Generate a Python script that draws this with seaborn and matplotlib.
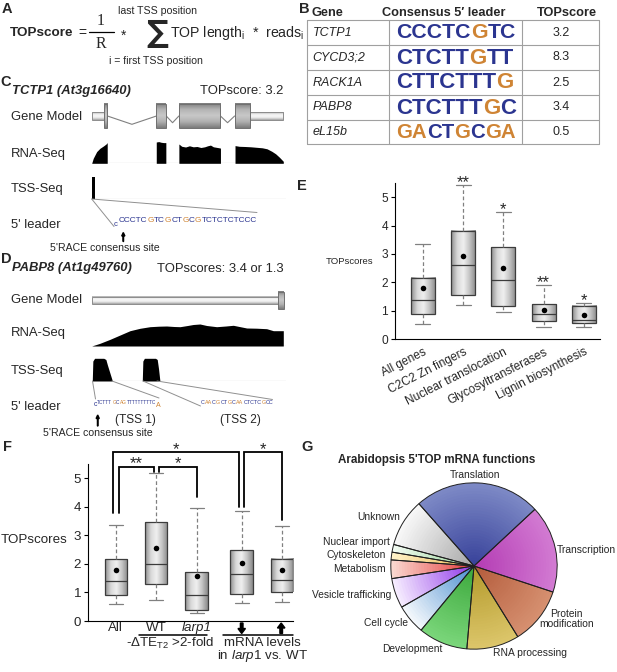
import itertools
import numpy as np
import matplotlib
matplotlib.use('Agg')
import matplotlib.pyplot as plt
import seaborn as sns
from matplotlib import font_manager
from matplotlib.colors import LinearSegmentedColormap, to_rgb
from matplotlib.patches import Rectangle

# ---------------- data ----------------
# B: consensus 5' leaders
genes_b = ['TCTP1', 'CYCD3;2', 'RACK1A', 'PABP8', 'eL15b']
leaders_b = ['CCCTCGTC', 'CTCTTGTT', 'CTTCTTTG', 'CTCTTTGC', 'GACTGCGA']
topscores_b = ['3.2', '8.3', '2.5', '3.4', '0.5']

# C: TCTP1 tracks (x in % of locus)
tctp1_utr = [(0, 6.6), (82.5, 100)]
tctp1_exons = [(6.6, 8.2), (33.8, 38.9), (45.5, 67.2), (74.6, 82.5)]
tctp1_dips = [8.3, 6.7, 6.7]
tctp1_rna_x = [[0, 0.8, 2.6, 4.3, 6.1, 7.5, 8.1],
               [33.7, 35, 36.3, 37.5, 38.7],
               [45.5, 47, 49, 51, 53, 55, 57, 59, 60.5, 62, 63.5, 65, 66.5, 67.2],
               [74.8, 77, 80, 83, 86, 89, 91.5, 94, 96, 98, 100]]
tctp1_rna_y = [[0, 5, 11.7, 15, 17.3, 19.3, 20.7],
               [21.3, 21.7, 21, 20.7, 20.7],
               [19.3, 17, 16.3, 17.5, 16.5, 16.8, 15.8, 16.5, 17.5, 18.2, 16.5, 16, 15.5, 15.2],
               [17.7, 17, 16.8, 16.5, 16, 15.5, 14.5, 12, 9.5, 6, 2]]
tctp1_tss_x = [1.0]
tctp1_tss_y = [22.5]
tctp1_leader = 'CCCTCGTCGCTGCGTCTCTCTCCC'

# D: PABP8 tracks
pabp8_utr = [(0, 97.4)]
pabp8_exons = [(97.4, 100.3)]
pabp8_rna_x = [0, 4.3, 9.6, 14.8, 20, 25.2, 30.4, 35, 39.1, 43, 46.1, 50, 53, 56.5,
               60, 65.2, 70, 73.9, 77, 80.9, 86, 91.3, 94.8, 100]
pabp8_rna_y = [0, 2.7, 6.7, 11, 15.3, 17.7, 19.3, 19.8, 20, 19.5, 19.3, 20.5, 21.5, 22,
               20.5, 19.3, 20, 20.7, 19.5, 18, 17.8, 17.3, 15.3, 15.3]
pabp8_tss_x = [[0.3, 0.6, 1.5, 6.3, 7.4, 8.2, 10.8],
               [26.4, 26.7, 27.5, 33.3, 34.2, 34.9, 35.6]]
pabp8_tss_y = [[0, 20, 22.7, 22.7, 21.5, 16, 0],
               [0, 20, 22.7, 22.7, 21.5, 12, 0]]
pabp8_tss1 = 'TCTTTGCAGTTTTTTTTTC'
pabp8_tss2 = 'CAACGCTGCAACTCTCGCC'

# E: TOPscores by gene category
E_cats = ['All genes', 'C2C2 Zn fingers', 'Nuclear translocation',
          'Glycosyltransferases', 'Lignin biosynthesis']
E_lo = [0.53, 1.21, 0.95, 0.44, 0.41]
E_q1 = [0.87, 1.55, 1.18, 0.65, 0.55]
E_med = [1.36, 2.60, 2.07, 0.87, 0.67]
E_q3 = [2.14, 3.81, 3.24, 1.22, 1.18]
E_hi = [3.35, 5.44, 4.46, 1.89, 1.28]
E_mean = [1.80, 2.94, 2.49, 1.04, 0.84]
E_sig = ['', '**', '*', '**', '*']

# F: TOPscores by larp1 response
F_cats = ['All', 'WT', 'larp1', '', '']
F_lo = [0.58, 0.72, 0.27, 0.62, 0.67]
F_q1 = [0.91, 1.29, 0.40, 0.95, 1.00]
F_med = [1.40, 2.00, 0.91, 1.65, 1.44]
F_q3 = [2.17, 3.46, 1.73, 2.49, 2.17]
F_hi = [3.38, 5.18, 3.95, 3.84, 3.34]
F_mean = [1.80, 2.56, 1.59, 2.03, 1.80]

# G: 5'TOP mRNA functions (% of genes)
G_labels = ['Translation', 'Transcription', 'Protein modification', 'RNA processing',
            'Development', 'Cell cycle', 'Vesicle trafficking', 'Metabolism',
            'Cytoskeleton', 'Nuclear import', 'Unknown']
G_share = [24.6, 17.0, 11.1, 10.2, 9.6, 5.8, 5.8, 3.6, 1.5, 1.5, 9.3]
G_outer = ['#7d89c6', '#d27ad2', '#d69070', '#dcc66a', '#7ad67a', '#f4f8fc',
           '#f6ecff', '#fbd8d0', '#fff2c8', '#f2fbf2', '#f8f8f8']
G_inner = ['#38429a', '#b43cb4', '#b45c3c', '#b49a2c', '#3ca83c', '#4a8ed0',
           '#9038e8', '#e23c3c', '#e8b850', '#98d498', '#a8a8a8']

# ---------------- style ----------------
sns.set_theme(style='ticks')
plt.rcParams['font.family'] = ['Liberation Sans', 'DejaVu Sans']
plt.rcParams['mathtext.fontset'] = 'custom'
plt.rcParams['mathtext.rm'] = 'Liberation Sans'
plt.rcParams['mathtext.it'] = 'Liberation Sans:italic'
plt.rcParams['mathtext.bf'] = 'Liberation Sans:bold'
plt.rcParams['axes.edgecolor'] = 'black'
plt.rcParams['axes.linewidth'] = 0.8

try:
    font_manager.findfont('Liberation Sans Narrow', fallback_to_default=False)
    NARROW = ['Liberation Sans Narrow', 'Liberation Sans']
except ValueError:
    NARROW = ['Liberation Sans', 'DejaVu Sans']

BLUE = '#2b3590'
ORANGE = '#cf8434'

W, H = 617, 672
fig = plt.figure(figsize=(W / 100, H / 100), dpi=100)
renderer = fig.canvas.get_renderer()


def px_axes(x0, y0, x1, y1):
    return fig.add_axes([x0 / W, 1 - y1 / H, (x1 - x0) / W, (y1 - y0) / H])


def base_color(ch):
    return ORANGE if ch in 'AG' else BLUE


cyl_box = LinearSegmentedColormap.from_list('cylb', ['#8e8e8e', '#d8d8d8', '#f0f0f0', '#c4c4c4', '#8a8a8a'])
cyl_exon = LinearSegmentedColormap.from_list('cyle', ['#7c7c7c', '#b4b4b4', '#c8c8c8', '#b0b0b0', '#7c7c7c'])
cyl_utr = LinearSegmentedColormap.from_list('cylu', ['#a8a8a8', '#ececec', '#f8f8f8', '#e4e4e4', '#a0a0a0'])
GRAD = np.linspace(0, 1, 64)


def shade(ax, x0, x1, y0, y1, cmap, vertical, z):
    img = GRAD.reshape(-1, 1) if vertical else GRAD.reshape(1, -1)
    ax.imshow(img, extent=[x0, x1, y0, y1], cmap=cmap, aspect='auto', zorder=z,
              interpolation='bilinear', clip_on=False)


def ax_h(ax):
    return ax.get_position().height * H


def draw_gene(ax, utrs, exons, utr_h, exon_h, dips):
    for a, b in utrs:
        shade(ax, a, b, -utr_h, utr_h, cyl_utr, True, 1)
        ax.add_patch(Rectangle((a, -utr_h), b - a, 2 * utr_h, fill=False, ec='#8c8c8c', lw=0.7, zorder=2, clip_on=False))
    for a, b in exons:
        shade(ax, a, b, -exon_h, exon_h, cyl_exon, True, 3)
        ax.add_patch(Rectangle((a, -exon_h), b - a, 2 * exon_h, fill=False, ec='#707070', lw=0.7, zorder=4, clip_on=False))
    for (a0, b0), (a1, b1), d in zip(exons[:-1], exons[1:], dips):
        ax.plot([b0, (b0 + a1) / 2, a1], [0, -d, 0], color='#808080', lw=0.8, zorder=0.5)
    ax.set_xlim(0, 101.2)
    ax.set_ylim(-ax_h(ax) / 2, ax_h(ax) / 2)
    ax.axis('off')


def track(ax):
    ax.axhline(0, color='#9a9a9a', lw=0.8, zorder=0)
    ax.set_xlim(0, 101.2)
    ax.set_ylim(0, 24)
    ax.axis('off')


def draw_boxes(ax, pos, lo, q1, med, q3, hi, mean, width):
    stats = [dict(whislo=a, q1=b, med=c, q3=d, whishi=e, mean=f)
             for a, b, c, d, e, f in zip(lo, q1, med, q3, hi, mean)]
    ax.bxp(stats, positions=pos, widths=width, patch_artist=True, showfliers=False,
           manage_ticks=False, capwidths=width * 0.62,
           boxprops=dict(facecolor='none', edgecolor='#3c3c3c', lw=0.9),
           medianprops=dict(color='#3c3c3c', lw=0.9),
           whiskerprops=dict(color='#808080', lw=0.9, ls=(0, (3, 2))),
           capprops=dict(color='#808080', lw=0.9))
    for p, a, b in zip(pos, q1, q3):
        shade(ax, p - width / 2, p + width / 2, a, b, cyl_box, False, 1.5)
    sns.scatterplot(x=pos, y=mean, color='black', s=16, linewidth=0, ax=ax, zorder=6, legend=False)


# ---------------- panel E ----------------
E_pos = list(range(len(E_cats)))
axE = px_axes(395, 183, 600, 339)
draw_boxes(axE, E_pos, E_lo, E_q1, E_med, E_q3, E_hi, E_mean, 0.6)
for p, h, s in zip(E_pos, E_hi, E_sig):
    axE.annotate(s, (p, h), xytext=(0, -1.5), textcoords='offset points', ha='center',
                 va='baseline', fontsize=12)
axE.set_xlim(-0.69, 4.4)
axE.set_ylim(0, 5.5)
axE.set_yticks(range(6))
axE.set_xticks(E_pos)
axE.set_xticklabels(E_cats, rotation=27, ha='right', va='top', rotation_mode='anchor', fontsize=8.6)
axE.tick_params(axis='x', length=0, pad=5)
axE.tick_params(axis='y', length=3, width=0.8, labelsize=8.6, pad=2, color='black')
axE.set_ylabel('TOPscores', rotation=0, ha='right', va='center', fontsize=6.8)
axE.yaxis.set_label_coords(-0.107, 0.50)
sns.despine(ax=axE)

# ---------------- panel F ----------------
F_pos = [0, 1, 2, 3.12, 4.12]
axF = px_axes(88, 464, 293, 621)
draw_boxes(axF, F_pos, F_lo, F_q1, F_med, F_q3, F_hi, F_mean, 0.56)
axF.set_xlim(-0.69, 4.39)
axF.set_ylim(0, 5.5)
axF.set_yticks(range(6))
axF.set_xticks(F_pos)
axF.set_xticklabels(F_cats, fontsize=9.6)
axF.get_xticklabels()[2].set_style('italic')
axF.tick_params(axis='x', length=0, pad=1)
axF.tick_params(axis='y', length=3, width=0.8, labelsize=9.6, pad=2, color='black')
axF.set_ylabel('TOPscores', rotation=0, ha='right', va='center', fontsize=9.6)
axF.yaxis.set_label_coords(-0.102, 0.516)
sns.despine(ax=axF)
# significance brackets (x, y in data units)
brackets = [([-0.07, -0.07, 3.06, 3.06], [3.77, 5.91, 5.91, 4.00]),
            ([0.074, 0.074, 0.95, 0.95], [3.77, 5.41, 5.41, 5.22]),
            ([1.07, 1.07, 2.0, 2.0], [5.22, 5.41, 5.41, 4.36]),
            ([3.18, 3.18, 4.12, 4.12], [4.00, 5.91, 5.91, 3.54])]
for bx, by in brackets:
    axF.plot(bx, by, color='black', lw=1.3, clip_on=False, solid_joinstyle='miter')
for sx, sy, s in [(1.5, 5.91, '*'), (0.51, 5.41, '**'), (1.53, 5.41, '*'), (3.65, 5.91, '*')]:
    axF.annotate(s, (sx, sy), xytext=(0, -1.0), textcoords='offset points', ha='center',
                 va='baseline', fontsize=12, annotation_clip=False)

# ---------------- panel G ----------------
axG = px_axes(390, 482, 558, 650)
n_layers = 30
for k in range(n_layers):
    t = k / (n_layers - 1)
    cols = [tuple((1 - t) * np.array(to_rgb(o)) + t * np.array(to_rgb(i))) for o, i in zip(G_outer, G_inner)]
    axG.pie(G_share, radius=1 - k / n_layers, colors=cols, startangle=131.5, counterclock=False,
            wedgeprops=dict(linewidth=0))
axG.pie(G_share, radius=1, colors=['none'] * len(G_share), startangle=131.5, counterclock=False,
        wedgeprops=dict(linewidth=0.7, edgecolor='#202020'))
axG.set_xlim(-1.01, 1.01)
axG.set_ylim(-1.01, 1.01)
axG.set_aspect('equal')

# ---------------- panels C and D tracks ----------------
axCg = px_axes(91.7, 101, 285.6, 131)
draw_gene(axCg, tctp1_utr, tctp1_exons, 3.8, 12.1, tctp1_dips)
axCr = px_axes(91.7, 139.3, 285.6, 163.3)
for xs, ys in zip(tctp1_rna_x, tctp1_rna_y):
    axCr.fill_between(xs, 0, ys, color='black', lw=0)
track(axCr)
axCt = px_axes(91.7, 175, 285.6, 199)
axCt.bar(tctp1_tss_x, tctp1_tss_y, width=1.2, color='black', lw=0)
track(axCt)

axDg = px_axes(91.7, 290, 285.6, 311)
draw_gene(axDg, pabp8_utr, pabp8_exons, 3.7, 8.8, [])
axDr = px_axes(91.7, 322, 285.6, 346)
axDr.fill_between(pabp8_rna_x, 0, pabp8_rna_y, color='black', lw=0)
track(axDr)
axDt = px_axes(91.7, 357, 285.6, 381)
for xs, ys in zip(pabp8_tss_x, pabp8_tss_y):
    axDt.fill_between(xs, 0, ys, color='black', lw=0)
track(axDt)

# ---------------- overlay for text and annotations ----------------
ov = px_axes(0, 0, W, H)
ov.set_xlim(0, W)
ov.set_ylim(H, 0)
ov.axis('off')


def fit_size(seq, target, family, weight):
    t = ov.text(0, 0, seq, fontsize=10, family=family, fontweight=weight)
    w = t.get_window_extent(renderer).width
    t.remove()
    return 10 * target / w


def write_seq(x, y, seq, target, family=NARROW, weight='normal', max_fs=None):
    # sequence written as colour runs, fitted to the span of the reference
    fs = fit_size(seq, target, family, weight)
    if max_fs:
        fs = min(fs, max_fs)
    for col, grp in itertools.groupby(seq, key=base_color):
        t = ov.text(x, y, ''.join(grp), family=family, fontweight=weight, fontsize=fs,
                    color=col, ha='left', va='center')
        x += t.get_window_extent(renderer).width + 0.15
    return x


PL = dict(fontsize=10.5, fontweight='bold', va='center', ha='left')
for lab, x, y in [('A', 2, 9), ('B', 299, 9), ('C', 0.5, 82), ('D', 1, 259), ('E', 297, 186),
                  ('F', 3, 447), ('G', 301, 447)]:
    ov.text(x, y, lab, **PL)

# A: equation
ov.text(10, 33, 'TOPscore', fontsize=9.7, fontweight='bold', va='center')
ov.text(82, 33, '=', fontsize=10, va='center', ha='center')
ov.text(101, 21, '1', family=['Liberation Serif', 'DejaVu Serif'], fontsize=11.5, ha='center', va='center')
ov.plot([89, 114], [32, 32], color='black', lw=0.9)
ov.text(101, 44, 'R', family=['Liberation Serif', 'DejaVu Serif'], fontsize=11.5, ha='center', va='center')
ov.text(124, 36, '*', fontsize=10, ha='center', va='center')
ov.text(157.5, 34, '∑', family=['DejaVu Sans'], fontsize=22, fontweight='bold', ha='center', va='center')
ov.text(157.5, 11.5, 'last TSS position', fontsize=7.6, ha='center', va='center')
ov.text(156, 61, 'i = first TSS position', fontsize=7.6, ha='center', va='center')
ov.text(169.5, 32.5, r'TOP length$_{\mathregular{i}}$  *  reads$_{\mathregular{i}}$', fontsize=10.2, va='center')

# B: table
tb_x0, tb_x1 = 307.3, 599.3
row_edges = [20, 45, 70, 95, 120, 144]
for y in row_edges:
    ov.plot([tb_x0, tb_x1], [y, y], color='#a0a0a0', lw=0.8)
for x in [tb_x0, 389.3, 522.3, tb_x1]:
    ov.plot([x, x], [row_edges[0], row_edges[-1]], color='#a0a0a0', lw=0.8)
ov.text(311.5, 12.5, 'Gene', fontsize=9.2, fontweight='bold', va='center')
ov.text(443.5, 12.5, 'Consensus 5′ leader', fontsize=9.2, fontweight='bold', va='center', ha='center')
ov.text(566.5, 12.5, 'TOPscore', fontsize=9.2, fontweight='bold', va='center', ha='center')
for r, (g, seq, sc) in enumerate(zip(genes_b, leaders_b, topscores_b)):
    yc = (row_edges[r] + row_edges[r + 1]) / 2
    ov.text(312.5, yc, g, fontsize=9, style='italic', va='center')
    ov.text(560.8, yc, sc, fontsize=9, va='center', ha='center')
    write_seq(396, yc + 0.5, seq, 119, family=['Liberation Sans', 'DejaVu Sans'], weight='bold', max_fs=16)

# C: labels
for txt, y in [('Gene Model', 117), ('RNA-Seq', 154), ('TSS-Seq', 189), ("5' leader", 225)]:
    ov.text(11, y, txt, fontsize=9.4, va='center')
ov.text(12.5, 91, 'TCTP1 (At3g16640)', fontsize=9.4, fontweight='bold', style='italic', va='center')
ov.text(283.5, 91, 'TOPscore: 3.2', fontsize=9.4, va='center', ha='right')
ov.plot([91.7, 114], [199, 226.5], color='#909090', lw=0.7)
ov.plot([91.7, 257], [199, 212.5], color='#909090', lw=0.7)
ov.text(113.3, 224, 'c', family=NARROW, fontsize=5.5, color=BLUE, ha='left', va='center')
write_seq(118.6, 220.5, tctp1_leader, 138)
ov.arrow(123.3, 241.5, 0, -9, width=0.5, head_width=3.2, head_length=3.5, length_includes_head=True, color='black')
ov.text(104.5, 248, "5'RACE consensus site", fontsize=7.6, ha='center', va='center')

# D: labels
for txt, y in [('Gene Model', 300), ('RNA-Seq', 333), ('TSS-Seq', 371), ("5' leader", 407)]:
    ov.text(11, y, txt, fontsize=9.4, va='center')
ov.text(12.5, 268.5, 'PABP8 (At1g49760)', fontsize=9.4, fontweight='bold', style='italic', va='center')
ov.text(283.5, 268.5, 'TOPscores: 3.4 or 1.3', fontsize=9.4, va='center', ha='right')
ov.plot([92.5, 95.5], [381, 399], color='#909090', lw=0.7)
ov.plot([112, 159], [381, 398], color='#909090', lw=0.7)
ov.plot([143, 200.5], [381, 406], color='#909090', lw=0.7)
ov.plot([157, 272.5], [381, 399.5], color='#909090', lw=0.7)
ov.text(94, 405, 'c', family=NARROW, fontsize=5, color=BLUE, ha='left', va='center')
x_end = write_seq(97.3, 402.8, pabp8_tss1, 59)
ov.text(x_end + 0.3, 405.5, 'A', family=NARROW, fontsize=5, color=ORANGE, ha='left', va='center')
write_seq(200.7, 402.8, pabp8_tss2, 72)
ov.text(135.8, 419.5, '(TSS 1)', fontsize=8.6, ha='center', va='center')
ov.text(240, 419.5, '(TSS 2)', fontsize=8.6, ha='center', va='center')
ov.arrow(97.7, 426, 0, -11, width=0.5, head_width=3.2, head_length=3.5, length_includes_head=True, color='black')
ov.text(98, 433.5, "5'RACE consensus site", fontsize=7.6, ha='center', va='center')

# F: group annotations
ov.arrow(241.7, 623, 0, 10.5, width=2.6, head_width=7.5, head_length=5, length_includes_head=True, color='black')
ov.arrow(281.2, 633.5, 0, -10.5, width=2.6, head_width=7.5, head_length=5, length_includes_head=True, color='black')
ov.plot([139, 207], [635, 635], color='black', lw=1.1)
ov.plot([223, 293], [635, 635], color='black', lw=1.1)
ov.text(169.5, 643, r'-ΔTE$_{\mathregular{T2}}$ >2-fold', fontsize=9.6, ha='center', va='center')
ov.text(262.5, 637, 'mRNA levels\n' + r'in $\mathit{larp1}$ vs. WT', fontsize=9.6, ha='center', va='top',
        linespacing=0.95, multialignment='center')

# G: title and slice labels
ov.text(437, 460, "Arabidopsis 5'TOP mRNA functions", fontsize=8.4, fontweight='bold', ha='center', va='center')
G_label_xy = [(474.7, 475, 'center'), (556.5, 550, 'left'), (566.5, 619, 'center'),
              (529.7, 652.5, 'center'), (412.5, 649, 'center'), (408.3, 623, 'right'),
              (391.7, 595.5, 'right'), (385.7, 568.5, 'right'), (385.7, 555, 'right'),
              (390, 542, 'right'), (400, 517, 'right')]
for lab, (x, y, ha) in zip(G_labels, G_label_xy):
    txt = lab.replace('Protein ', 'Protein\n')
    ov.text(x, y, txt, fontsize=7.4, ha=ha, va='center', linespacing=1.0,
            multialignment='center')

fig.savefig('out.png', dpi=100)
